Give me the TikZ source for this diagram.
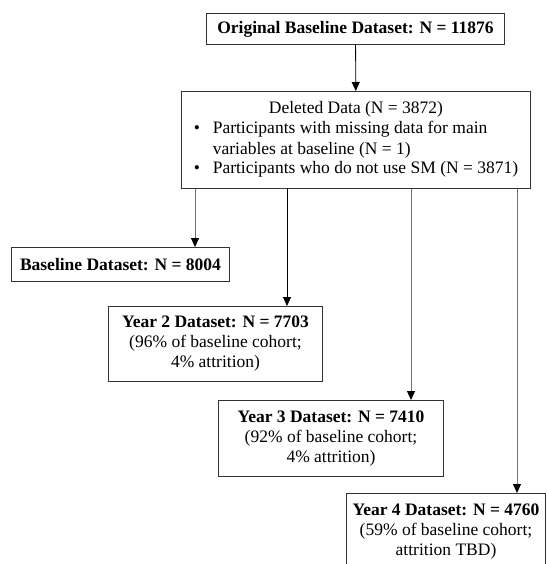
\documentclass[tikz,border=0pt]{standalone}
\usepackage{fontspec}
\setmainfont{Liberation Serif}
\usetikzlibrary{arrows.meta}
\begin{document}
\begin{tikzpicture}[x=1pt,y=-1pt,
  box/.style={draw=black!80,line width=1pt,anchor=north west,inner sep=0pt,
    align=center,font=\fontsize{17.5}{20}\selectfont},
  arr/.style={line width=0.8pt,-{Triangle[width=8pt,length=9pt,color=black]}},
  lite/.style={draw=black!55}]
\useasboundingbox (0,0) rectangle (546,564);
\clip (0,0) rectangle (546,564);

% boxes
\node[box,minimum width=298pt,minimum height=31pt] (orig) at (206,13)
  {\textbf{Original Baseline Dataset: N = 11876}};
\node[box,minimum width=349pt,minimum height=97pt] (del) at (181,91)
  {\begin{tabular}{@{}p{19pt}@{}l@{}}
   \multicolumn{2}{c}{Deleted Data (N = 3872)}\\
   • & Participants with missing data for main\\
     & variables at baseline (N = 1)\\
   • & Participants who do not use SM (N = 3871)
   \end{tabular}};
\node[box,minimum width=218pt,minimum height=34pt] (base) at (11,247)
  {\textbf{Baseline Dataset: N = 8004}};
\node[box,minimum width=214pt,minimum height=75pt] (y2) at (108,306)
  {\textbf{Year 2 Dataset: N = 7703}\\(96\% of baseline cohort;\\4\% attrition)};
\node[box,minimum width=225pt,minimum height=76pt] (y3) at (218,400)
  {\textbf{Year 3 Dataset: N = 7410}\\(92\% of baseline cohort;\\4\% attrition)};
\node[box,minimum width=199pt,minimum height=76pt] (y4) at (346,493)
  {\textbf{Year 4 Dataset: N = 4760}\\(59\% of baseline cohort;\\attrition TBD)};

% connector columns
\coordinate (c1) at (195,0);
\coordinate (c2) at (287,0);
\coordinate (c3) at (411,0);
\coordinate (c4) at (517,0);

\draw[arr] (orig) -- (del);
\draw[arr,lite] (c1 |- del.south) -- (c1 |- base.north);
\draw[arr] (c2 |- del.south) -- (c2 |- y2.north);
\draw[arr,lite] (c3 |- del.south) -- (c3 |- y3.north);
\draw[arr,lite] (c4 |- del.south) -- (c4 |- y4.north);
\end{tikzpicture}
\end{document}
